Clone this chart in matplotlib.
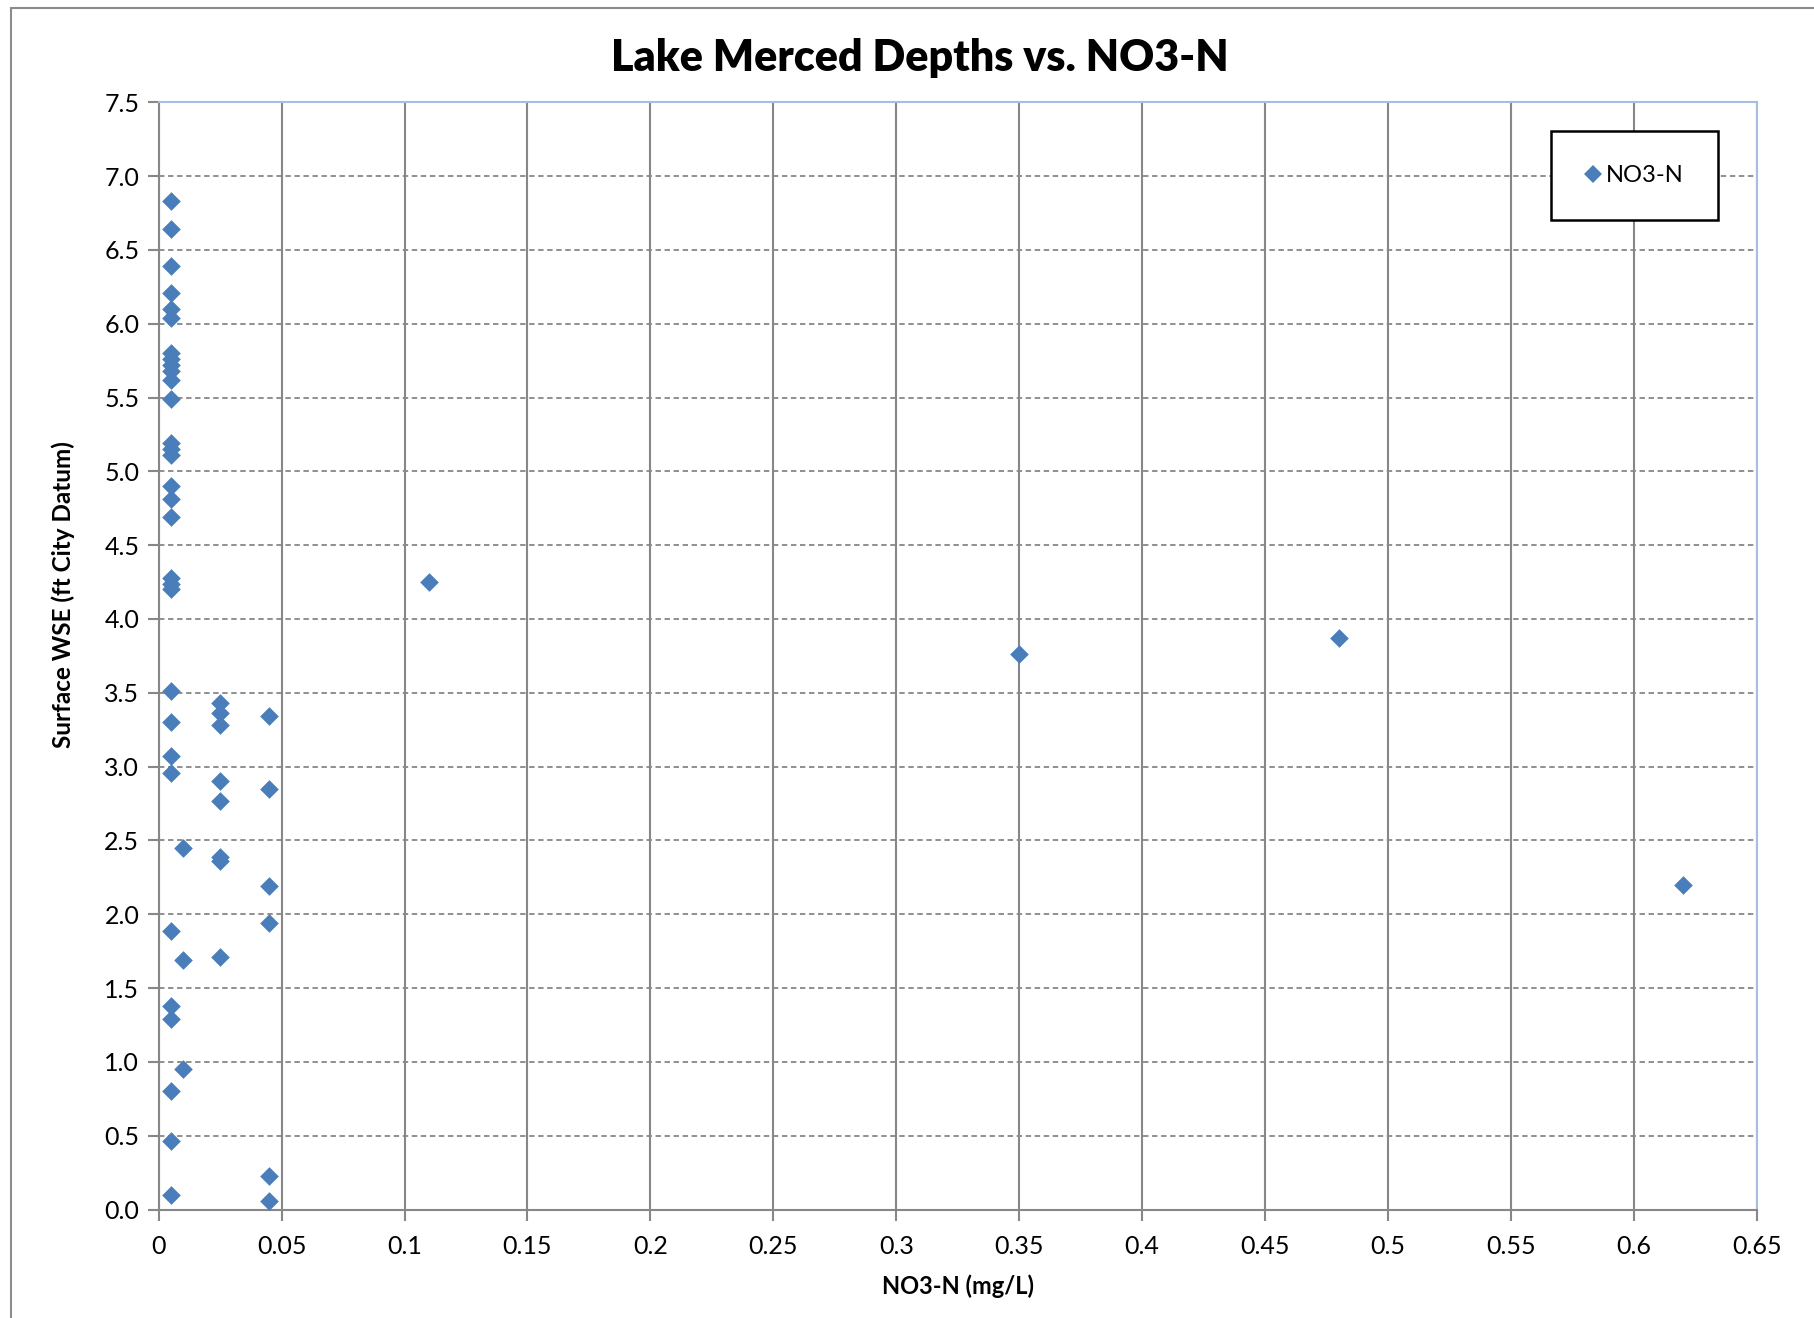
import matplotlib.pyplot as plt
from matplotlib.patches import Rectangle
from matplotlib.lines import Line2D

# NO3-N concentration (mg/L) and surface water elevation (ft City Datum)
no3_n = [0.005] * 31 + [0.01] * 3 + [0.025] * 8 + [0.045] * 6 + \
        [0.11, 0.35, 0.48, 0.62]
wse = [6.83, 6.64, 6.39, 6.21, 6.10, 6.04, 5.80, 5.76, 5.72, 5.68,
       5.62, 5.49, 5.19, 5.15, 5.11, 4.90, 4.81, 4.69, 4.28, 4.24,
       4.20, 3.51, 3.30, 3.07, 2.96, 1.89, 1.38,
       1.29, 0.80, 0.465, 0.10,
       2.45, 1.69, 0.955,
       3.43, 3.36, 3.28, 2.90, 2.77, 2.39, 2.36, 1.71,
       3.34, 2.85, 2.19, 1.94, 0.23, 0.06,
       4.25, 3.76, 3.87, 2.20]

x_ticks = [0, 0.05, 0.1, 0.15, 0.2, 0.25, 0.3, 0.35, 0.4, 0.45, 0.5, 0.55, 0.6, 0.65]
x_tick_labels = ['0', '0.05', '0.1', '0.15', '0.2', '0.25', '0.3', '0.35',
                 '0.4', '0.45', '0.5', '0.55', '0.6', '0.65']
y_ticks = [0.0, 0.5, 1.0, 1.5, 2.0, 2.5, 3.0, 3.5, 4.0, 4.5, 5.0, 5.5, 6.0, 6.5, 7.0, 7.5]

plt.rcParams['font.family'] = ['Lato', 'DejaVu Sans']

fig = plt.figure(figsize=(18.14, 13.18), dpi=100)
ax = fig.add_axes([0.0875, 0.0823, 0.8809, 0.8401])

# outer chart frame (left and top edges visible)
fig.patches.append(Rectangle((11 / 1814, -0.5), 2.0, 1.5 - 8 / 1318, transform=fig.transFigure,
                             fill=False, edgecolor='#8c8c8c', linewidth=1.5))

ax.scatter(no3_n, wse, marker='D', s=9.5 ** 2, color='#4A7EBB', zorder=3, linewidths=0)

ax.set_xlim(0, 0.65)
ax.set_ylim(0, 7.5)
ax.set_xticks(x_ticks)
ax.set_xticklabels(x_tick_labels)
ax.set_yticks(y_ticks)
ax.set_yticklabels(['%.1f' % v for v in y_ticks])

ax.xaxis.grid(True, color='#878787', linewidth=1.5, linestyle='-')
ax.yaxis.grid(True, color='#878787', linewidth=1.3, linestyle=(0, (3, 2)))
ax.set_axisbelow(True)

for side in ['left', 'bottom']:
    ax.spines[side].set_color('#878787')
    ax.spines[side].set_linewidth(1.5)
for side in ['top', 'right']:
    ax.spines[side].set_color('#A7BDE3')
    ax.spines[side].set_linewidth(1.5)

ax.tick_params(axis='both', direction='out', length=8, width=1.5, color='#878787',
               labelsize=18, pad=6)
ax.tick_params(axis='x', pad=10)

# title and y label sit a little off the axes centre, as in the original
fig.text(0.507, 0.956, 'Lake Merced Depths vs. NO3-N', fontsize=31, fontweight='heavy',
         ha='center', va='center')
ax.set_xlabel('NO3-N (mg/L)', fontsize=17, fontweight='bold', labelpad=12)
fig.text(0.035, 0.549, 'Surface WSE (ft City Datum)', fontsize=17.5, fontweight='bold',
         rotation=90, ha='center', va='center')

# legend box
ax.add_patch(Rectangle((0.871, 0.894), 0.105, 0.080, transform=ax.transAxes,
                       facecolor='white', edgecolor='black', linewidth=1.8, zorder=4))
handle = Line2D([], [], marker='D', linestyle='none', color='#4A7EBB',
                markersize=9, markeredgewidth=0)
leg = ax.legend([handle], ['NO3-N'], loc='center', bbox_to_anchor=(0.9235, 0.934),
                frameon=False, fontsize=17, handlelength=0.6, handletextpad=0.25)
leg.set_zorder(5)

fig.savefig('out.png', dpi=100)
